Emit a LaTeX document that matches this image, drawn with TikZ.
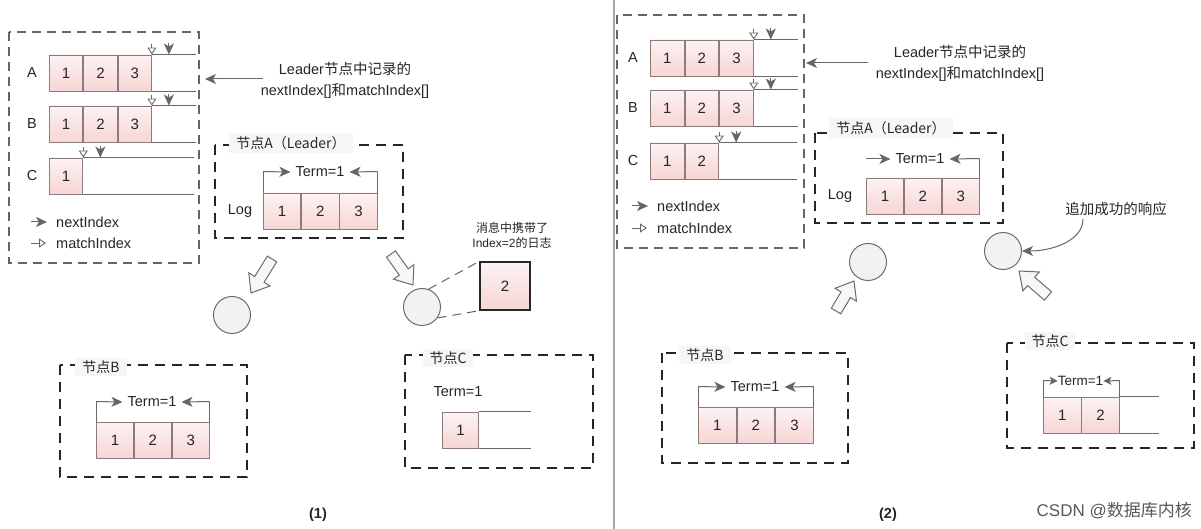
\documentclass[tikz,border=0pt]{standalone}
\usepackage{fontspec}
\setmainfont{Liberation Sans}
\newfontfamily\cjk{Noto Sans CJK SC}
\usetikzlibrary{arrows.meta,calc}
\definecolor{lg}{HTML}{666666}
\definecolor{cb}{HTML}{8C7B7B}
\definecolor{ctop}{HTML}{FDF2F2}
\definecolor{cbot}{HTML}{F7D5D5}
\definecolor{tx}{HTML}{262626}
\tikzset{
 cellbox/.style={draw=cb, line width=0.9pt, top color=ctop, bottom color=cbot, minimum width=#1, minimum height=36pt, inner sep=0pt, font=\fontsize{15}{16}\selectfont, text=tx, anchor=west},
 rowline/.style={draw=lg, line width=0.9pt},
 outerbox/.style={draw=lg, line width=1.3pt, dash pattern=on 9pt off 6pt},
 nodebox/.style={draw=black!85, line width=1.6pt, dash pattern=on 10pt off 7pt},
 boxlabel/.style={fill=gray!7, inner xsep=7pt, inner ysep=3pt, font=\cjk\fontsize{14}{16}\selectfont, text=tx},
 txt/.style={font=\fontsize{14.5}{17}\selectfont, inner sep=0pt, text=tx},
 smalltxt/.style={font=\fontsize{12}{14}\selectfont, inner sep=0pt, text=tx},
 nextarrow/.style={draw=lg, line width=1pt, -{Stealth[length=11pt,width=10pt,inset=3pt]}},
 matcharrow/.style={draw=lg, line width=0.9pt, -{Triangle[open,length=7pt,width=9pt]}},
 termarrow/.style={draw=lg, line width=1pt, -{Stealth[length=11pt,width=10pt,inset=3pt]}},
 ball/.style={circle, draw=gray!85!black, line width=1pt, fill=gray!10, minimum size=37pt, inner sep=0pt},
 fatst/.style={draw=gray!85!black, line width=1pt, fill=gray!6, line join=miter},
}
\newcommand\blockarrow[2]{%
 \coordinate (#1h) at ($(#2)!16pt!(#1)$);
 \draw[fatst] ($(#1)!5.5pt!90:(#2)$) -- ($(#1h)!5.5pt!90:(#2)$) -- ($(#1h)!12.5pt!90:(#2)$) -- (#2) -- ($(#1h)!12.5pt!-90:(#2)$) -- ($(#1h)!5.5pt!-90:(#2)$) -- ($(#1)!5.5pt!-90:(#2)$) -- cycle;}
\begin{document}
\begin{tikzpicture}[x=1pt,y=-1pt]
\fill[white] (0,0) rectangle (1201,529);
\useasboundingbox (0,0) rectangle (1201,529);
\draw[gray!70, line width=1.2pt] (614,0) -- (614,529);

% ================= PANEL 1 =================
\draw[outerbox] (9,32) rectangle (199,263);
% row A
\node[txt] (la) at (32,73) {A};
\node[cellbox=33.4pt] (a1) at (49,73) {1};
\node[cellbox=33.4pt] (a2) at (a1.east) {2};
\node[cellbox=33.4pt] (a3) at (a2.east) {3};
\draw[rowline] (a3.north east) -- ++(44,0);
\draw[rowline] (a3.south east) -- ++(44,0);
\draw[matcharrow] ([yshift=11pt]a3.north east) -- (a3.north east);
\draw[nextarrow] ([xshift=17pt,yshift=12pt]a3.north east) -- ([xshift=17pt]a3.north east);
% row B
\node[txt] (lb) at (32,124) {B};
\node[cellbox=33.4pt] (b1) at (49,124) {1};
\node[cellbox=33.4pt] (b2) at (b1.east) {2};
\node[cellbox=33.4pt] (b3) at (b2.east) {3};
\draw[rowline] (b3.north east) -- ++(44,0);
\draw[rowline] (b3.south east) -- ++(44,0);
\draw[matcharrow] ([yshift=11pt]b3.north east) -- (b3.north east);
\draw[nextarrow] ([xshift=17pt,yshift=12pt]b3.north east) -- ([xshift=17pt]b3.north east);
% row C
\node[txt] (lc) at (32,176) {C};
\node[cellbox=33.4pt] (c1) at (49,176) {1};
\draw[rowline] (c1.north east) -- ++(111,0);
\draw[rowline] (c1.south east) -- ++(111,0);
\draw[matcharrow] ([yshift=11pt]c1.north east) -- (c1.north east);
\draw[nextarrow] ([xshift=17pt,yshift=12pt]c1.north east) -- ([xshift=17pt]c1.north east);
% legend
\node[txt, anchor=west] (ln) at (56,222) {nextIndex};
\node[txt, anchor=west] (lm) at (56,243) {matchIndex};
\draw[nextarrow] ([xshift=-25pt]ln.west) -- ([xshift=-9pt]ln.west);
\draw[matcharrow] ([xshift=-25pt]lm.west) -- ([xshift=-10pt]lm.west);
% annotation
\node[txt] (ann1) at (345,69) {Leader{\cjk 节点中记录的}};
\node[txt] (ann1b) at (345,91) {nextIndex[]{\cjk 和}matchIndex[]};
\coordinate (ann1t) at (205,79);
\draw[nextarrow] (263,79) -- (ann1t);

% node A (Leader)
\draw[nodebox] (215,145) rectangle (403,238);
\node[boxlabel] (lblA) at (291,143) {节点A（Leader）};
\node[txt] (logA) at (240,211) {Log};
\node[cellbox=37.3pt] (na1) at (263,211) {1};
\node[cellbox=37.3pt] (na2) at (na1.east) {2};
\node[cellbox=37.3pt] (na3) at (na2.east) {3};
\node[txt] (tA) at (320,172) {Term=1};
\draw[rowline] (na1.north west) -- ++(0,-21) coordinate (tAl);
\draw[rowline] (na3.north east) -- ++(0,-21) coordinate (tAr);
\draw[termarrow] (tAl) -- ([xshift=-5pt]tA.west);
\draw[termarrow] (tAr) -- ([xshift=5pt]tA.east);

% circles, arrows
\node[ball] (ball1) at (232,315) {};
\node[ball] (ball2) at (422,307) {};
\coordinate (f1t) at (272,259); \coordinate (f1p) at (251,293);
\blockarrow{f1t}{f1p}
\coordinate (f2t) at (391,254); \coordinate (f2p) at (413,285);
\blockarrow{f2t}{f2p}
\node[cellbox=50pt, minimum height=48pt, draw=black!85, line width=1.3pt, anchor=center] (msg) at (505,286) {2};
\draw[draw=gray!80!black, line width=1pt, dash pattern=on 9pt off 6pt] (ball2.70) -- (msg.north west);
\draw[draw=gray!80!black, line width=1pt, dash pattern=on 9pt off 6pt] (ball2.-35) -- (msg.south west);
\node[smalltxt] (mt1) at (512,228) {\cjk 消息中携带了};
\node[smalltxt] (mt2) at (512,243) {Index=2{\cjk 的日志}};

% node B
\draw[nodebox] (60,365) rectangle (247,477);
\node[boxlabel] (lblB) at (101,367) {节点B};
\node[cellbox=37pt] (nb1) at (96,440) {1};
\node[cellbox=37pt] (nb2) at (nb1.east) {2};
\node[cellbox=37pt] (nb3) at (nb2.east) {3};
\node[txt] (tB) at (152,402) {Term=1};
\draw[rowline] (nb1.north west) -- ++(0,-20) coordinate (tBl);
\draw[rowline] (nb3.north east) -- ++(0,-20) coordinate (tBr);
\draw[termarrow] (tBl) -- ([xshift=-5pt]tB.west);
\draw[termarrow] (tBr) -- ([xshift=5pt]tB.east);

% node C
\draw[nodebox] (405,355) rectangle (593,468);
\node[boxlabel] (lblC) at (448,358) {节点C};
\node[txt] (tC) at (458,392) {Term=1};
\node[cellbox=36pt] (nc1) at (442,430) {1};
\draw[rowline] (nc1.north east) -- ++(52,0);
\draw[rowline] (nc1.south east) -- ++(52,0);

\node[txt, font=\bfseries\fontsize{14.5}{17}\selectfont] (cap1) at (318,515) {(1)};

% ================= PANEL 2 =================
\draw[outerbox] (617,15) rectangle (804,248);
% row A
\node[txt] (la2) at (633,58) {A};
\node[cellbox=33.7pt] (p2a1) at (650,58) {1};
\node[cellbox=33.7pt] (p2a2) at (p2a1.east) {2};
\node[cellbox=33.7pt] (p2a3) at (p2a2.east) {3};
\draw[rowline] (p2a3.north east) -- ++(44,0);
\draw[rowline] (p2a3.south east) -- ++(44,0);
\draw[matcharrow] ([yshift=11pt]p2a3.north east) -- (p2a3.north east);
\draw[nextarrow] ([xshift=17pt,yshift=12pt]p2a3.north east) -- ([xshift=17pt]p2a3.north east);
% row B
\node[txt] (lb2) at (633,108) {B};
\node[cellbox=33.7pt] (p2b1) at (650,108) {1};
\node[cellbox=33.7pt] (p2b2) at (p2b1.east) {2};
\node[cellbox=33.7pt] (p2b3) at (p2b2.east) {3};
\draw[rowline] (p2b3.north east) -- ++(44,0);
\draw[rowline] (p2b3.south east) -- ++(44,0);
\draw[matcharrow] ([yshift=11pt]p2b3.north east) -- (p2b3.north east);
\draw[nextarrow] ([xshift=17pt,yshift=12pt]p2b3.north east) -- ([xshift=17pt]p2b3.north east);
% row C
\node[txt] (lc2) at (633,161) {C};
\node[cellbox=33.7pt] (p2c1) at (650,161) {1};
\node[cellbox=33.7pt] (p2c2) at (p2c1.east) {2};
\draw[rowline] (p2c2.north east) -- ++(78,0);
\draw[rowline] (p2c2.south east) -- ++(78,0);
\draw[matcharrow] ([yshift=11pt]p2c2.north east) -- (p2c2.north east);
\draw[nextarrow] ([xshift=17pt,yshift=12pt]p2c2.north east) -- ([xshift=17pt]p2c2.north east);
% legend
\node[txt, anchor=west] (ln2) at (657,206) {nextIndex};
\node[txt, anchor=west] (lm2) at (657,228) {matchIndex};
\draw[nextarrow] ([xshift=-25pt]ln2.west) -- ([xshift=-9pt]ln2.west);
\draw[matcharrow] ([xshift=-25pt]lm2.west) -- ([xshift=-10pt]lm2.west);
% annotation
\node[txt] (ann2) at (960,52) {Leader{\cjk 节点中记录的}};
\node[txt] (ann2b) at (960,74) {nextIndex[]{\cjk 和}matchIndex[]};
\coordinate (ann2t) at (806,63);
\draw[nextarrow] (868,63) -- (ann2t);

% node A (Leader)
\draw[nodebox] (815,133) rectangle (1003,223);
\node[boxlabel] (lblA2) at (891,128) {节点A（Leader）};
\node[txt] (logA2) at (840,196) {Log};
\node[cellbox=37pt] (q1) at (866,196) {1};
\node[cellbox=37pt] (q2) at (q1.east) {2};
\node[cellbox=37pt] (q3) at (q2.east) {3};
\node[txt] (tA2) at (920,159) {Term=1};
\coordinate (tA2l) at (866,159);
\draw[rowline] (q3.north east) -- ++(0,-19) coordinate (tA2r);
\draw[termarrow] (tA2l) -- ([xshift=-5pt]tA2.west);
\draw[termarrow] (tA2r) -- ([xshift=5pt]tA2.east);

% circles, arrows
\node[ball] (ball3) at (868,262) {};
\node[ball] (ball4) at (1003,251) {};
\coordinate (f3t) at (836,311); \coordinate (f3p) at (854,281);
\blockarrow{f3t}{f3p}
\coordinate (f4t) at (1048,296); \coordinate (f4p) at (1019,271);
\blockarrow{f4t}{f4p}
\node[txt] (resp) at (1116,209) {\cjk 追加成功的响应};
\draw[termarrow] ([xshift=-33pt,yshift=-3pt]resp.south) .. controls +(0,22) and +(30,0) .. (ball4.east);

% node B
\draw[nodebox] (662,353) rectangle (848,463);
\node[boxlabel] (lblB2) at (705,355) {节点B};
\node[cellbox=37.7pt] (r1) at (698,425) {1};
\node[cellbox=37.7pt] (r2) at (r1.east) {2};
\node[cellbox=37.7pt] (r3) at (r2.east) {3};
\node[txt] (tB2) at (755,387) {Term=1};
\draw[rowline] (r1.north west) -- ++(0,-20) coordinate (tB2l);
\draw[rowline] (r3.north east) -- ++(0,-20) coordinate (tB2r);
\draw[termarrow] (tB2l) -- ([xshift=-5pt]tB2.west);
\draw[termarrow] (tB2r) -- ([xshift=5pt]tB2.east);

% node C
\draw[nodebox] (1007,343) rectangle (1194,448);
\node[boxlabel] (lblC2) at (1050,341) {节点C};
\node[cellbox=37.5pt] (s1) at (1043,415) {1};
\node[cellbox=37.5pt] (s2) at (s1.east) {2};
\draw[rowline] (s2.north east) -- ++(39,0);
\draw[rowline] (s2.south east) -- ++(39,0);
\node[txt, font=\fontsize{13.5}{16}\selectfont] (tC2) at (1080.5,381) {Term=1};
\draw[rowline] (s1.north west) -- ++(0,-16) coordinate (tC2l);
\draw[rowline] (s2.north east) -- ++(0,-16) coordinate (tC2r);
\draw[draw=lg, line width=1pt, -{Stealth[length=8pt,width=8pt,inset=2pt]}] (tC2l) -- (tC2.west);
\draw[draw=lg, line width=1pt, -{Stealth[length=8pt,width=8pt,inset=2pt]}] (tC2r) -- (tC2.east);

\node[txt, font=\bfseries\fontsize{14.5}{17}\selectfont] (cap2) at (888,515) {(2)};
\node[txt, anchor=east, text=black!65, font=\fontsize{17}{20}\selectfont] (wm) at (1192,510) {CSDN @{\cjk 数据库内核}};
\end{tikzpicture}
\end{document}
